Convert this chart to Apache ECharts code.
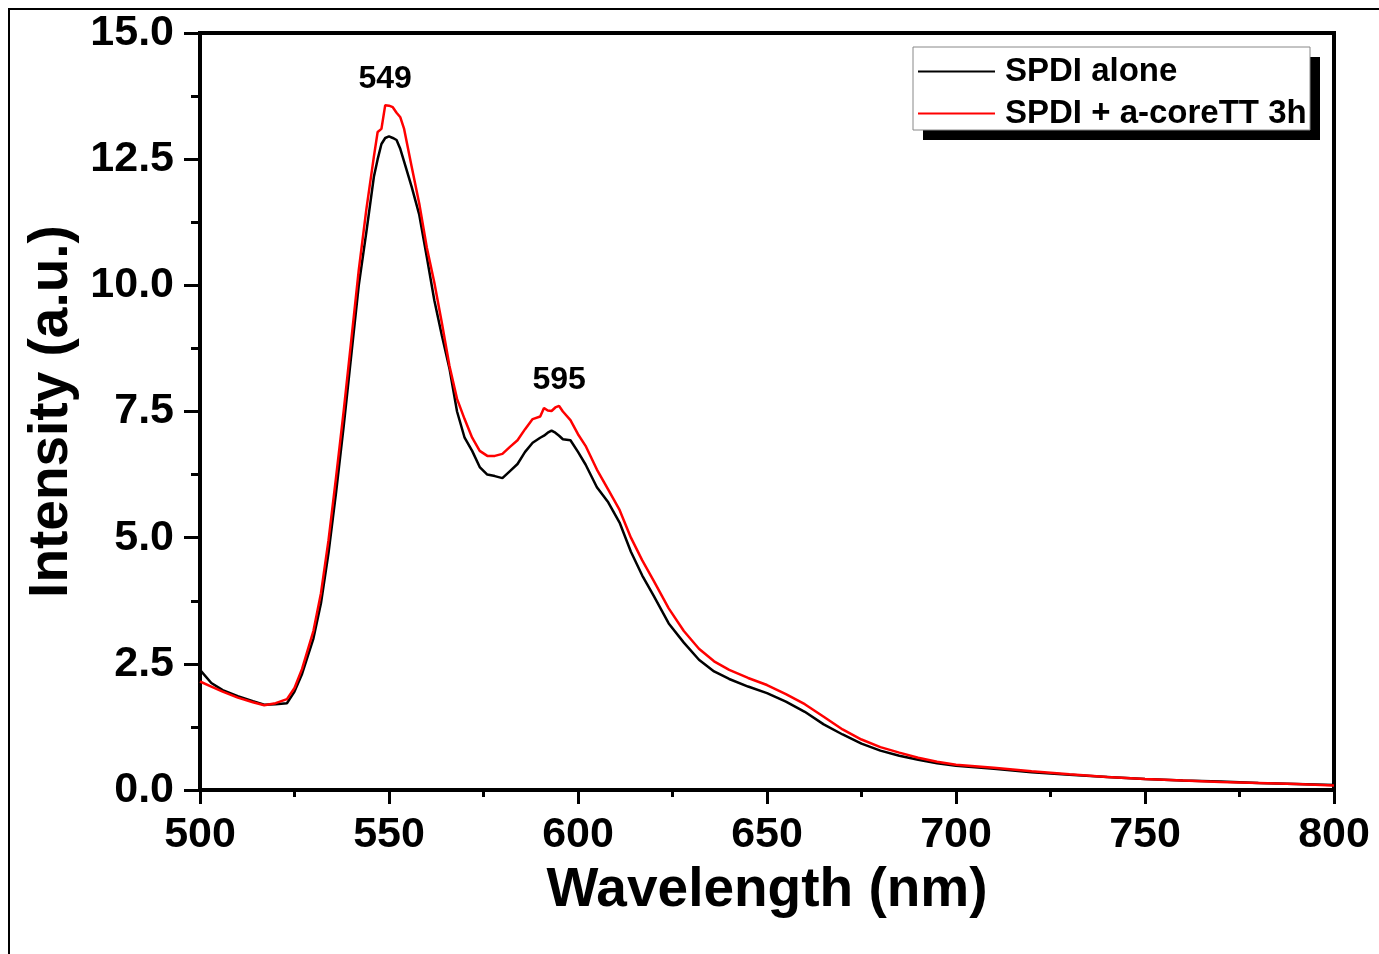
<!DOCTYPE html>
<html lang="en">
<head>
    <meta charset="UTF-8">
    <title>SPDI emission</title>
    <script src="https://cdn.jsdelivr.net/npm/echarts@6/dist/echarts.min.js"></script>
    <style>
        html, body { margin: 0; padding: 0; background: #fff; }
        #chart { width: 1379px; height: 954px; }
    </style>
</head>
<body>
<div id="chart"></div>
<script type="text/javascript">
    // wavelength (nm)
    var wavelength = [500, 503, 506, 510, 514, 517, 520, 523, 525, 527, 530, 532, 534, 536, 538, 540, 542, 544, 546, 547,
        548, 549, 550, 551, 552, 553, 554, 556, 558, 560, 562, 564, 566, 568, 570, 572, 574, 576, 578, 580,
        582, 584, 586, 588, 590, 591, 592, 593, 594, 595, 596, 598, 600, 602, 605, 608, 611, 614, 617, 620,
        624, 628, 632, 636, 640, 645, 650, 655, 660, 665, 670, 675, 680, 685, 690, 695, 700, 710, 720, 730,
        740, 750, 760, 770, 780, 790, 800];

    // SPDI alone
    var spdiAlone = [2.38, 2.12, 1.98, 1.86, 1.76, 1.69, 1.70, 1.72, 1.95, 2.30, 3.00, 3.70, 4.70, 5.90, 7.20, 8.60, 10.00, 11.05, 12.15, 12.50,
        12.80, 12.92, 12.95, 12.92, 12.88, 12.70, 12.45, 11.95, 11.40, 10.56, 9.70, 9.00, 8.35, 7.50, 6.98, 6.72, 6.40, 6.25, 6.22, 6.18,
        6.32, 6.46, 6.70, 6.88, 6.98, 7.02, 7.08, 7.12, 7.08, 7.02, 6.95, 6.93, 6.70, 6.45, 6.00, 5.70, 5.30, 4.72, 4.25, 3.85,
        3.30, 2.92, 2.58, 2.35, 2.20, 2.05, 1.92, 1.75, 1.55, 1.30, 1.10, 0.92, 0.78, 0.68, 0.60, 0.53, 0.48, 0.42, 0.35, 0.30,
        0.26, 0.22, 0.19, 0.17, 0.14, 0.12, 0.10];

    // SPDI + a-coreTT 3h
    var spdiCore = [2.15, 2.05, 1.95, 1.83, 1.74, 1.68, 1.72, 1.80, 2.02, 2.40, 3.15, 3.90, 4.95, 6.20, 7.50, 8.90, 10.30, 11.50, 12.55, 13.04,
        13.10, 13.57, 13.56, 13.53, 13.42, 13.33, 13.10, 12.35, 11.62, 10.75, 10.05, 9.25, 8.40, 7.75, 7.35, 6.98, 6.72, 6.62, 6.62, 6.66,
        6.80, 6.93, 7.15, 7.35, 7.40, 7.57, 7.52, 7.51, 7.58, 7.61, 7.50, 7.33, 7.05, 6.82, 6.35, 5.95, 5.55, 5.00, 4.55, 4.15,
        3.60, 3.15, 2.80, 2.55, 2.38, 2.22, 2.08, 1.90, 1.70, 1.45, 1.20, 1.00, 0.85, 0.74, 0.64, 0.56, 0.50, 0.44, 0.37, 0.31,
        0.26, 0.22, 0.19, 0.16, 0.14, 0.12, 0.09];

    var seriesNames = ['SPDI alone', 'SPDI + a-coreTT 3h'];
    var peakLabels = [549, 595];
    var peakValues = [13.57, 7.61];

    function pairs(xs, ys) {
        return xs.map(function (x, i) { return [x, ys[i]]; });
    }

    var font = 'Liberation Sans, Arial, sans-serif';

    var chart = echarts.init(document.getElementById('chart'));

    var option = {
        backgroundColor: '#fff',
        animation: false,
        grid: {
            left: 200, top: 33, right: 45, bottom: 164,
            show: true, borderColor: '#000', borderWidth: 4, backgroundColor: 'transparent'
        },
        graphic: [
            // outer frame of the figure
            {type: 'rect', z: 0, shape: {x: 9, y: 9, width: 1400, height: 1000},
                style: {fill: 'none', stroke: '#000', lineWidth: 2}},
            // legend shadow and box
            {type: 'rect', z: 1, shape: {x: 923, y: 57, width: 397, height: 83}, style: {fill: '#000'}},
            {type: 'rect', z: 2, shape: {x: 913, y: 47, width: 397, height: 83},
                style: {fill: '#fff', stroke: '#888', lineWidth: 1}}
        ],
        legend: {
            z: 5,
            orient: 'vertical',
            left: 918, top: 55,
            padding: 0,
            itemWidth: 77, itemHeight: 2,
            itemGap: 9,
            icon: 'rect',
            data: seriesNames,
            textStyle: {fontFamily: font, fontWeight: 'bold', fontSize: 33, lineHeight: 33, color: '#000', padding: [0, 0, 0, 5]}
        },
        xAxis: {
            type: 'value',
            min: 500, max: 800, interval: 50,
            name: 'Wavelength (nm)',
            nameLocation: 'middle',
            nameGap: 73,
            nameTextStyle: {fontFamily: font, fontWeight: 'bold', fontSize: 55, color: '#000'},
            axisLine: {onZero: false, lineStyle: {color: '#000', width: 4}},
            axisTick: {length: 14, lineStyle: {color: '#000', width: 3}},
            minorTick: {show: true, splitNumber: 2, length: 7, lineStyle: {color: '#000', width: 3}},
            splitLine: {show: false},
            axisLabel: {fontFamily: font, fontWeight: 'bold', fontSize: 43, color: '#000', margin: 24,
                showMinLabel: true, showMaxLabel: true}
        },
        yAxis: {
            type: 'value',
            min: 0, max: 15, interval: 2.5,
            name: 'Intensity (a.u.)',
            nameLocation: 'middle',
            nameGap: 103,
            nameTextStyle: {fontFamily: font, fontWeight: 'bold', fontSize: 55, color: '#000'},
            axisLine: {show: true, lineStyle: {color: '#000', width: 4}},
            axisTick: {show: true, length: 16, lineStyle: {color: '#000', width: 3}},
            minorTick: {show: true, splitNumber: 2, length: 9, lineStyle: {color: '#000', width: 3}},
            splitLine: {show: false},
            axisLabel: {fontFamily: font, fontWeight: 'bold', fontSize: 43, color: '#000', margin: 26,
                formatter: function (v) { return v.toFixed(1); }}
        },
        series: [
            {
                name: seriesNames[0],
                type: 'line',
                showSymbol: false,
                data: pairs(wavelength, spdiAlone),
                color: '#000',
                lineStyle: {color: '#000', width: 2.5}
            },
            {
                name: seriesNames[1],
                type: 'line',
                showSymbol: false,
                data: pairs(wavelength, spdiCore),
                color: '#ff0000',
                lineStyle: {color: '#ff0000', width: 2.5},
                markPoint: {
                    symbol: 'circle',
                    symbolSize: 0,
                    label: {show: true, position: 'top', distance: 10, color: '#000',
                        fontFamily: font, fontWeight: 'bold', fontSize: 32,
                        formatter: function (p) { return p.value; }},
                    data: peakLabels.map(function (w, i) {
                        return {coord: [w, peakValues[i]], value: String(w)};
                    })
                }
            }
        ]
    };

    chart.setOption(option);
</script>
</body>
</html>
